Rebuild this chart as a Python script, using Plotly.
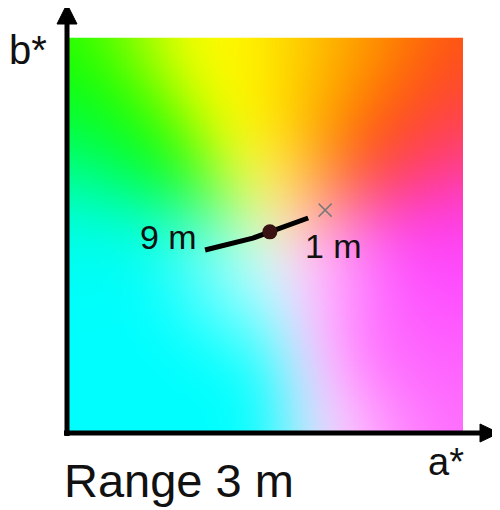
import numpy as np
import plotly.graph_objects as go

# ---- colour field anchors (hue angle around the white point, RGB) ----
hue_angle = [0, 16, 34, 49, 60, 76, 90, 100, 112, 118, 126, 136, 150, 160, 170, 180, 200, 262, 272, 278, 284, 293, 305, 316, 360]
hue_red   = [255, 255, 255, 255, 255, 255, 255, 255, 255, 200, 110, 20, 0, 0, 0, 0, 0, 0, 80, 180, 240, 255, 255, 255, 255]
hue_green = [70, 60, 65, 80, 130, 185, 225, 250, 255, 255, 255, 255, 255, 255, 255, 255, 255, 255, 245, 240, 230, 200, 140, 110, 70]
hue_blue  = [255, 215, 90, 20, 0, 0, 0, 0, 0, 0, 0, 0, 80, 160, 220, 245, 255, 255, 255, 255, 255, 255, 255, 255, 255]
white_point = (2.4, -5.0)      # a*, b* of the neutral point
saturation_radius = 34.0       # chroma at which colours are full
blur_sigma = 7.0               # softening of the colour field (a*/b* units)

# ---- trajectory data (a*, b*) ----
a_path = [-15.3, -9.0, -3.2, 1.1, 6.2, 10.8]
b_path = [-3.8, -2.3, -0.8, 0.8, 2.5, 4.3]
a_mid, b_mid = [1.1], [0.8]
a_end, b_end = [15.1], [6.3]
label_far = "9 m"
label_near = "1 m"
axis_x_label = "a*"
axis_y_label = "b*"
title_text = "Range 3 m"
axis_range = [-50, 50]

# ---- build colour field ----
N = 240
step = (axis_range[1] - axis_range[0]) / N
grid = np.linspace(axis_range[0] + step / 2, axis_range[1] - step / 2, N)
A, B = np.meshgrid(grid, grid)
dxs = A - white_point[0]
dys = B - white_point[1]
ang = np.degrees(np.arctan2(dys, dxs)) % 360
r = np.hypot(dxs, dys)
s = np.clip(r / saturation_radius, 0, 1) ** 0.85
chan = [np.interp(ang, hue_angle, c) for c in (hue_red, hue_green, hue_blue)]
rgb = np.stack([255 * (1 - s) + c * s for c in chan], axis=-1)

# gaussian softening (separable, edge padded)
sig = blur_sigma / step
k = int(3 * sig)
kern = np.exp(-0.5 * (np.arange(-k, k + 1) / sig) ** 2)
kern /= kern.sum()
pad = np.pad(rgb, ((k, k), (k, k), (0, 0)), mode="edge")
tmp = np.zeros((pad.shape[0], N, 3))
for i, w in enumerate(kern):
    tmp += w * pad[:, i:i + N, :]
out = np.zeros((N, N, 3))
for i, w in enumerate(kern):
    out += w * tmp[i:i + N, :, :]
z = np.clip(out, 0, 255).astype(np.uint8)

# page body has an 8px margin; figure sized so plot area lands at x 68..463, y 37..433
W, H = 492, 502
L, T = 60, 29
pw, ph = 395, 396
R_, Bm = W - L - pw, H - T - ph


def px(x):
    return (x - 68) / pw


def py(y):
    return (433 - y) / ph


fig = go.Figure()
fig.add_trace(go.Image(z=z, x0=grid[0], dx=step, y0=grid[0], dy=step,
                       zsmooth="fast", hoverinfo="skip"))
fig.add_trace(go.Scatter(x=a_path, y=b_path, mode="lines",
                         line=dict(color="black", width=5), hoverinfo="skip"))
fig.add_trace(go.Scatter(x=a_mid, y=b_mid, mode="markers",
                         marker=dict(color="#3a1212", size=15), hoverinfo="skip"))
fig.add_trace(go.Scatter(x=a_end, y=b_end, mode="markers",
                         marker=dict(symbol="x-thin", size=13, line=dict(color="#7a7a7a", width=1.5)),
                         hoverinfo="skip"))

font_family = "Liberation Sans, Arial, sans-serif"
ann = [
    dict(x=-16.8, y=-0.4, xref="x", yref="y", text=label_far, showarrow=False,
         xanchor="right", yanchor="middle", font=dict(size=34, color="#111")),
    dict(x=9.6, y=-2.8, xref="x", yref="y", text=label_near, showarrow=False,
         xanchor="left", yanchor="middle", font=dict(size=34, color="#111")),
    dict(x=px(28), y=py(50), xref="paper", yref="paper", text=axis_y_label, showarrow=False,
         xanchor="center", yanchor="middle", font=dict(size=40, color="#111")),
    dict(x=px(446), y=py(462), xref="paper", yref="paper", text=axis_x_label, showarrow=False,
         xanchor="center", yanchor="middle", font=dict(size=38, color="#111")),
    dict(x=px(62), y=py(480), xref="paper", yref="paper", text=title_text, showarrow=False,
         xanchor="left", yanchor="middle", font=dict(size=47, color="#111")),
]

shapes = [
    dict(type="line", xref="paper", yref="paper", x0=px(67), y0=py(436), x1=px(67), y1=py(20),
         line=dict(color="black", width=5)),
    dict(type="path", xref="paper", yref="paper",
         path=f"M {px(67)},{py(4)} L {px(57)},{py(24)} L {px(77)},{py(24)} Z",
         fillcolor="black", line=dict(color="black", width=1)),
    dict(type="line", xref="paper", yref="paper", x0=px(64), y0=py(433), x1=px(484), y1=py(433),
         line=dict(color="black", width=5)),
    dict(type="path", xref="paper", yref="paper",
         path=f"M {px(499)},{py(433)} L {px(480)},{py(424)} L {px(480)},{py(442)} Z",
         fillcolor="black", line=dict(color="black", width=1)),
]

fig.update_layout(
    width=W, height=H, margin=dict(l=L, r=R_, t=T, b=Bm),
    paper_bgcolor="white", plot_bgcolor="white", showlegend=False,
    font=dict(family=font_family),
    xaxis=dict(range=axis_range, visible=False, showgrid=False, zeroline=False, fixedrange=True),
    yaxis=dict(range=axis_range, visible=False, showgrid=False, zeroline=False, fixedrange=True,
               autorange=False),
    annotations=ann, shapes=shapes,
)

fig.write_html("out.html")
